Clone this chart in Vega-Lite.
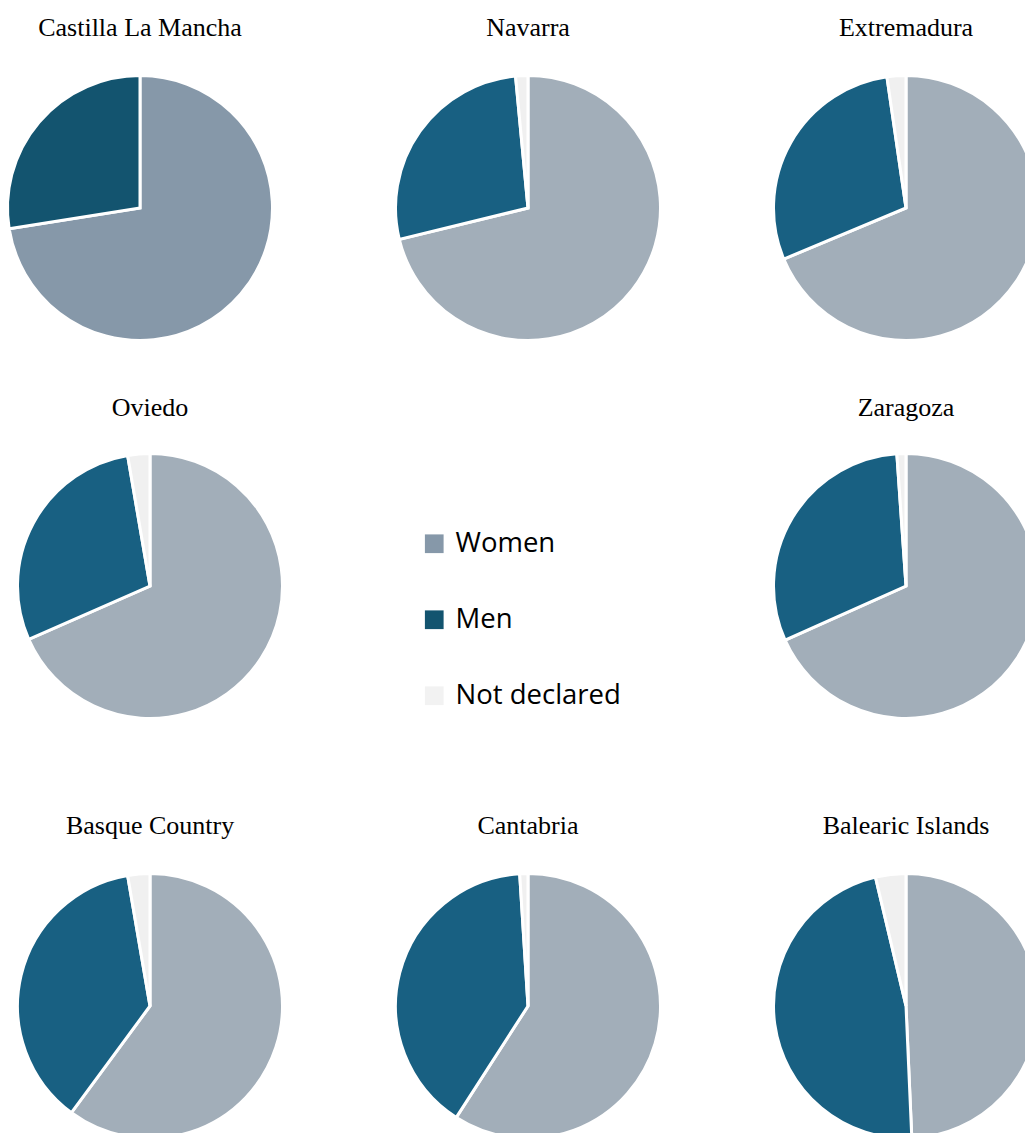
{
  "$schema": "https://vega.github.io/schema/vega-lite/v6.json",
  "padding": {"top": 14, "left": 0, "right": 0, "bottom": 0},
  "autosize": {"type": "pad"},
  "background": "white",
  "data": {
    "values": [
      {"region": "Castilla La Mancha", "category": "Women", "rank": 1, "value": 72.5},
      {"region": "Castilla La Mancha", "category": "Men", "rank": 2, "value": 27.5},
      {"region": "Navarra", "category": "Women", "rank": 1, "value": 71.2},
      {"region": "Navarra", "category": "Men", "rank": 2, "value": 27.3},
      {"region": "Navarra", "category": "Not declared", "rank": 3, "value": 1.5},
      {"region": "Extremadura", "category": "Women", "rank": 1, "value": 68.7},
      {"region": "Extremadura", "category": "Men", "rank": 2, "value": 29.0},
      {"region": "Extremadura", "category": "Not declared", "rank": 3, "value": 2.3},
      {"region": "Oviedo", "category": "Women", "rank": 1, "value": 68.4},
      {"region": "Oviedo", "category": "Men", "rank": 2, "value": 28.9},
      {"region": "Oviedo", "category": "Not declared", "rank": 3, "value": 2.7},
      {"region": "Zaragoza", "category": "Women", "rank": 1, "value": 68.3},
      {"region": "Zaragoza", "category": "Men", "rank": 2, "value": 30.6},
      {"region": "Zaragoza", "category": "Not declared", "rank": 3, "value": 1.1},
      {"region": "Basque Country", "category": "Women", "rank": 1, "value": 60.1},
      {"region": "Basque Country", "category": "Men", "rank": 2, "value": 37.2},
      {"region": "Basque Country", "category": "Not declared", "rank": 3, "value": 2.7},
      {"region": "Cantabria", "category": "Women", "rank": 1, "value": 59.1},
      {"region": "Cantabria", "category": "Men", "rank": 2, "value": 39.9},
      {"region": "Cantabria", "category": "Not declared", "rank": 3, "value": 1.0},
      {"region": "Balearic Islands", "category": "Women", "rank": 1, "value": 49.3},
      {"region": "Balearic Islands", "category": "Men", "rank": 2, "value": 47.0},
      {"region": "Balearic Islands", "category": "Not declared", "rank": 3, "value": 3.7}
    ]
  },
  "config": {
    "view": {"stroke": null},
    "title": {"font": "Liberation Serif", "fontSize": 26, "fontWeight": "normal", "color": "#000000", "frame": "group", "anchor": "middle"},
    "arc": {"radius": 132.5}
  },
  "resolve": {"scale": {"fill": "independent"}},
  "spacing": 48,
  "vconcat": [
    {
      "bounds": "flush",
      "spacing": 0,
      "resolve": {"scale": {"fill": "independent"}},
      "hconcat": [
        {
          "title": {"text": "Castilla La Mancha", "offset": 29},
          "width": 280, "height": 262,
          "transform": [{"filter": {"field": "region", "equal": "Castilla La Mancha"}}],
          "mark": {"type": "arc"},
          "encoding": {
            "theta": {"field": "value", "type": "quantitative", "stack": "normalize"},
            "order": {"field": "rank", "type": "quantitative"},
            "stroke": {"value": "white"},
            "strokeWidth": {"value": 3},
            "color": {"field": "category", "type": "nominal",
              "scale": {"domain": ["Women", "Men", "Not declared"], "range": ["#8698a9", "#13546f", "#f2f2f2"]},
              "legend": {
                "orient": "none", "legendX": 420.5, "legendY": 453, "title": null, "padding": 0,
                "symbolType": "square", "symbolSize": 350, "symbolStrokeWidth": 0,
                "labelFont": "Open Sans", "labelFontSize": 27.5, "labelColor": "#000000",
                "labelOffset": 7.5, "rowPadding": 47, "labelLimit": 400
              }}
          }
        },
        {
          "title": {"text": "Navarra", "offset": 29},
          "width": 496, "height": 262,
          "transform": [{"filter": {"field": "region", "equal": "Navarra"}}],
          "mark": {"type": "arc"},
          "encoding": {
            "theta": {"field": "value", "type": "quantitative", "stack": "normalize"},
            "order": {"field": "rank", "type": "quantitative"},
            "stroke": {"value": "white"},
            "strokeWidth": {"value": 3},
            "fill": {"field": "category", "type": "nominal", "legend": null,
              "scale": {"domain": ["Women", "Men", "Not declared"], "range": ["#a2aeb9", "#186082", "#f0f0f0"]}}
          }
        },
        {
          "title": {"text": "Extremadura", "offset": 29},
          "width": 260, "height": 262,
          "transform": [{"filter": {"field": "region", "equal": "Extremadura"}}],
          "mark": {"type": "arc"},
          "encoding": {
            "theta": {"field": "value", "type": "quantitative", "stack": "normalize"},
            "order": {"field": "rank", "type": "quantitative"},
            "stroke": {"value": "white"},
            "strokeWidth": {"value": 3},
            "fill": {"field": "category", "type": "nominal", "legend": null,
              "scale": {"domain": ["Women", "Men", "Not declared"], "range": ["#a2aeb9", "#186082", "#f0f0f0"]}}
          }
        }
      ]
    },
    {
      "bounds": "flush",
      "spacing": 456,
      "resolve": {"scale": {"fill": "independent"}},
      "hconcat": [
        {
          "title": {"text": "Oviedo", "offset": -13},
          "width": 300, "height": 356,
          "transform": [{"filter": {"field": "region", "equal": "Oviedo"}}],
          "mark": {"type": "arc"},
          "encoding": {
            "theta": {"field": "value", "type": "quantitative", "stack": "normalize"},
            "order": {"field": "rank", "type": "quantitative"},
            "stroke": {"value": "white"},
            "strokeWidth": {"value": 3},
            "fill": {"field": "category", "type": "nominal", "legend": null,
              "scale": {"domain": ["Women", "Men", "Not declared"], "range": ["#a2aeb9", "#186082", "#f0f0f0"]}}
          }
        },
        {
          "title": {"text": "Zaragoza", "offset": -13},
          "width": 300, "height": 356,
          "transform": [{"filter": {"field": "region", "equal": "Zaragoza"}}],
          "mark": {"type": "arc"},
          "encoding": {
            "theta": {"field": "value", "type": "quantitative", "stack": "normalize"},
            "order": {"field": "rank", "type": "quantitative"},
            "stroke": {"value": "white"},
            "strokeWidth": {"value": 3},
            "fill": {"field": "category", "type": "nominal", "legend": null,
              "scale": {"domain": ["Women", "Men", "Not declared"], "range": ["#a2aeb9", "#186082", "#f0f0f0"]}}
          }
        }
      ]
    },
    {
      "bounds": "flush",
      "spacing": 0,
      "resolve": {"scale": {"fill": "independent"}},
      "hconcat": [
        {
          "title": {"text": "Basque Country", "offset": 29},
          "width": 300, "height": 262,
          "transform": [{"filter": {"field": "region", "equal": "Basque Country"}}],
          "mark": {"type": "arc"},
          "encoding": {
            "theta": {"field": "value", "type": "quantitative", "stack": "normalize"},
            "order": {"field": "rank", "type": "quantitative"},
            "stroke": {"value": "white"},
            "strokeWidth": {"value": 3},
            "fill": {"field": "category", "type": "nominal", "legend": null,
              "scale": {"domain": ["Women", "Men", "Not declared"], "range": ["#a2aeb9", "#186082", "#f0f0f0"]}}
          }
        },
        {
          "title": {"text": "Cantabria", "offset": 29},
          "width": 456, "height": 262,
          "transform": [{"filter": {"field": "region", "equal": "Cantabria"}}],
          "mark": {"type": "arc"},
          "encoding": {
            "theta": {"field": "value", "type": "quantitative", "stack": "normalize"},
            "order": {"field": "rank", "type": "quantitative"},
            "stroke": {"value": "white"},
            "strokeWidth": {"value": 3},
            "fill": {"field": "category", "type": "nominal", "legend": null,
              "scale": {"domain": ["Women", "Men", "Not declared"], "range": ["#a2aeb9", "#186082", "#f0f0f0"]}}
          }
        },
        {
          "title": {"text": "Balearic Islands", "offset": 29},
          "width": 300, "height": 262,
          "transform": [{"filter": {"field": "region", "equal": "Balearic Islands"}}],
          "mark": {"type": "arc"},
          "encoding": {
            "theta": {"field": "value", "type": "quantitative", "stack": "normalize"},
            "order": {"field": "rank", "type": "quantitative"},
            "stroke": {"value": "white"},
            "strokeWidth": {"value": 3},
            "fill": {"field": "category", "type": "nominal", "legend": null,
              "scale": {"domain": ["Women", "Men", "Not declared"], "range": ["#a2aeb9", "#186082", "#f0f0f0"]}}
          }
        }
      ]
    }
  ]
}
